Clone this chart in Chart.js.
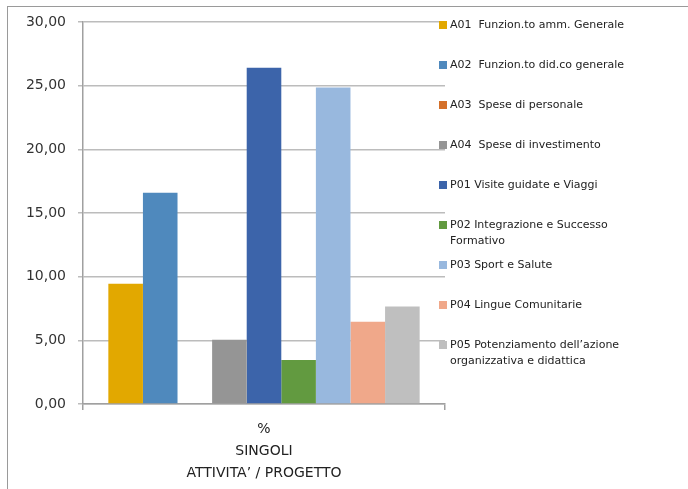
<!DOCTYPE html>
<html>
<head>
<meta charset="utf-8">
<script src="https://cdn.jsdelivr.net/npm/chart.js@4/dist/chart.umd.min.js"></script>
<style>
  html, body { margin: 0; padding: 0; background: #fff; }
  #wrap { position: relative; width: 688px; height: 489px; }
</style>
</head>
<body>
<div id="wrap"><canvas id="mainChart" width="688" height="489"></canvas></div>
<script>
// Dati
const categories = [['%', 'SINGOLI', 'ATTIVITA\u2019 / PROGETTO']];
const seriesNames = [
    ['A01  Funzion.to amm. Generale'],
    ['A02  Funzion.to did.co generale'],
    ['A03  Spese di personale'],
    ['A04  Spese di investimento'],
    ['P01 Visite guidate e Viaggi'],
    ['P02 Integrazione e Successo', 'Formativo'],
    ['P03 Sport e Salute'],
    ['P04 Lingue Comunitarie'],
    ['P05 Potenziamento dell\u2019azione', 'organizzativa e didattica']
];
const seriesValues = [9.45, 16.6, 0, 5.05, 26.4, 3.45, 24.85, 6.45, 7.65];
const seriesColors = ['#e2a800', '#4f89bd', '#d4702a', '#959595', '#3c64aa', '#629a40', '#98b8de', '#f0a88a', '#bfbfbf'];
const yTicks = [0, 5, 10, 15, 20, 25, 30];

const ctx = document.getElementById('mainChart').getContext('2d');

// bordo esterno + legenda disegnata a mano (etichette su due righe)
const frameAndLegend = {
    id: 'frameAndLegend',
    afterDraw(chart) {
        const c = chart.ctx;
        c.save();
        c.strokeStyle = '#9a9a9a';
        c.lineWidth = 1;
        c.strokeRect(7.5, 6.5, 700, 500);
        c.font = '11px "DejaVu Sans"';
        c.textBaseline = 'middle';
        chart.data.datasets.forEach((ds, i) => {
            const y = 25 + i * 40;
            c.fillStyle = ds.backgroundColor;
            c.fillRect(439, y - 4, 8, 8);
            c.fillStyle = '#222';
            ds.legendLines.forEach((t, k) => c.fillText(t, 450, y + k * 16));
        });
        c.restore();
    }
};

new Chart(ctx, {
    type: 'bar',
    data: {
        labels: categories,
        datasets: seriesNames.map((name, i) => ({
            label: name.join(' '),
            legendLines: name,
            data: [seriesValues[i]],
            backgroundColor: seriesColors[i],
            borderWidth: 0,
            barPercentage: 1,
            categoryPercentage: 0.86
        }))
    },
    options: {
        responsive: false,
        animation: false,
        layout: { padding: { top: 22, right: 243, bottom: 0, left: 0 } },
        plugins: { legend: { display: false }, tooltip: { enabled: false } },
        scales: {
            y: {
                min: 0,
                max: 30,
                afterBuildTicks: (s) => { s.ticks = yTicks.map(v => ({ value: v })); },
                afterFit: (s) => { s.width = 83; },
                grid: { color: '#bcbcbc', lineWidth: 1.5, tickLength: 5 },
                border: { color: '#a0a0a0', width: 1.5 },
                ticks: {
                    color: '#333',
                    padding: 12,
                    font: { family: 'DejaVu Sans', size: 14 },
                    callback: (v) => v.toFixed(2).replace('.', ',')
                }
            },
            x: {
                afterFit: (s) => { s.height = 85; },
                grid: { drawOnChartArea: false, offset: true, tickLength: 6, color: '#a0a0a0', lineWidth: 1.5 },
                border: { color: '#a0a0a0', width: 1.5 },
                ticks: {
                    color: '#222',
                    padding: 9,
                    font: { family: 'DejaVu Sans', size: 14, lineHeight: 1.55 }
                }
            }
        }
    },
    plugins: [frameAndLegend]
});
</script>
</body>
</html>
